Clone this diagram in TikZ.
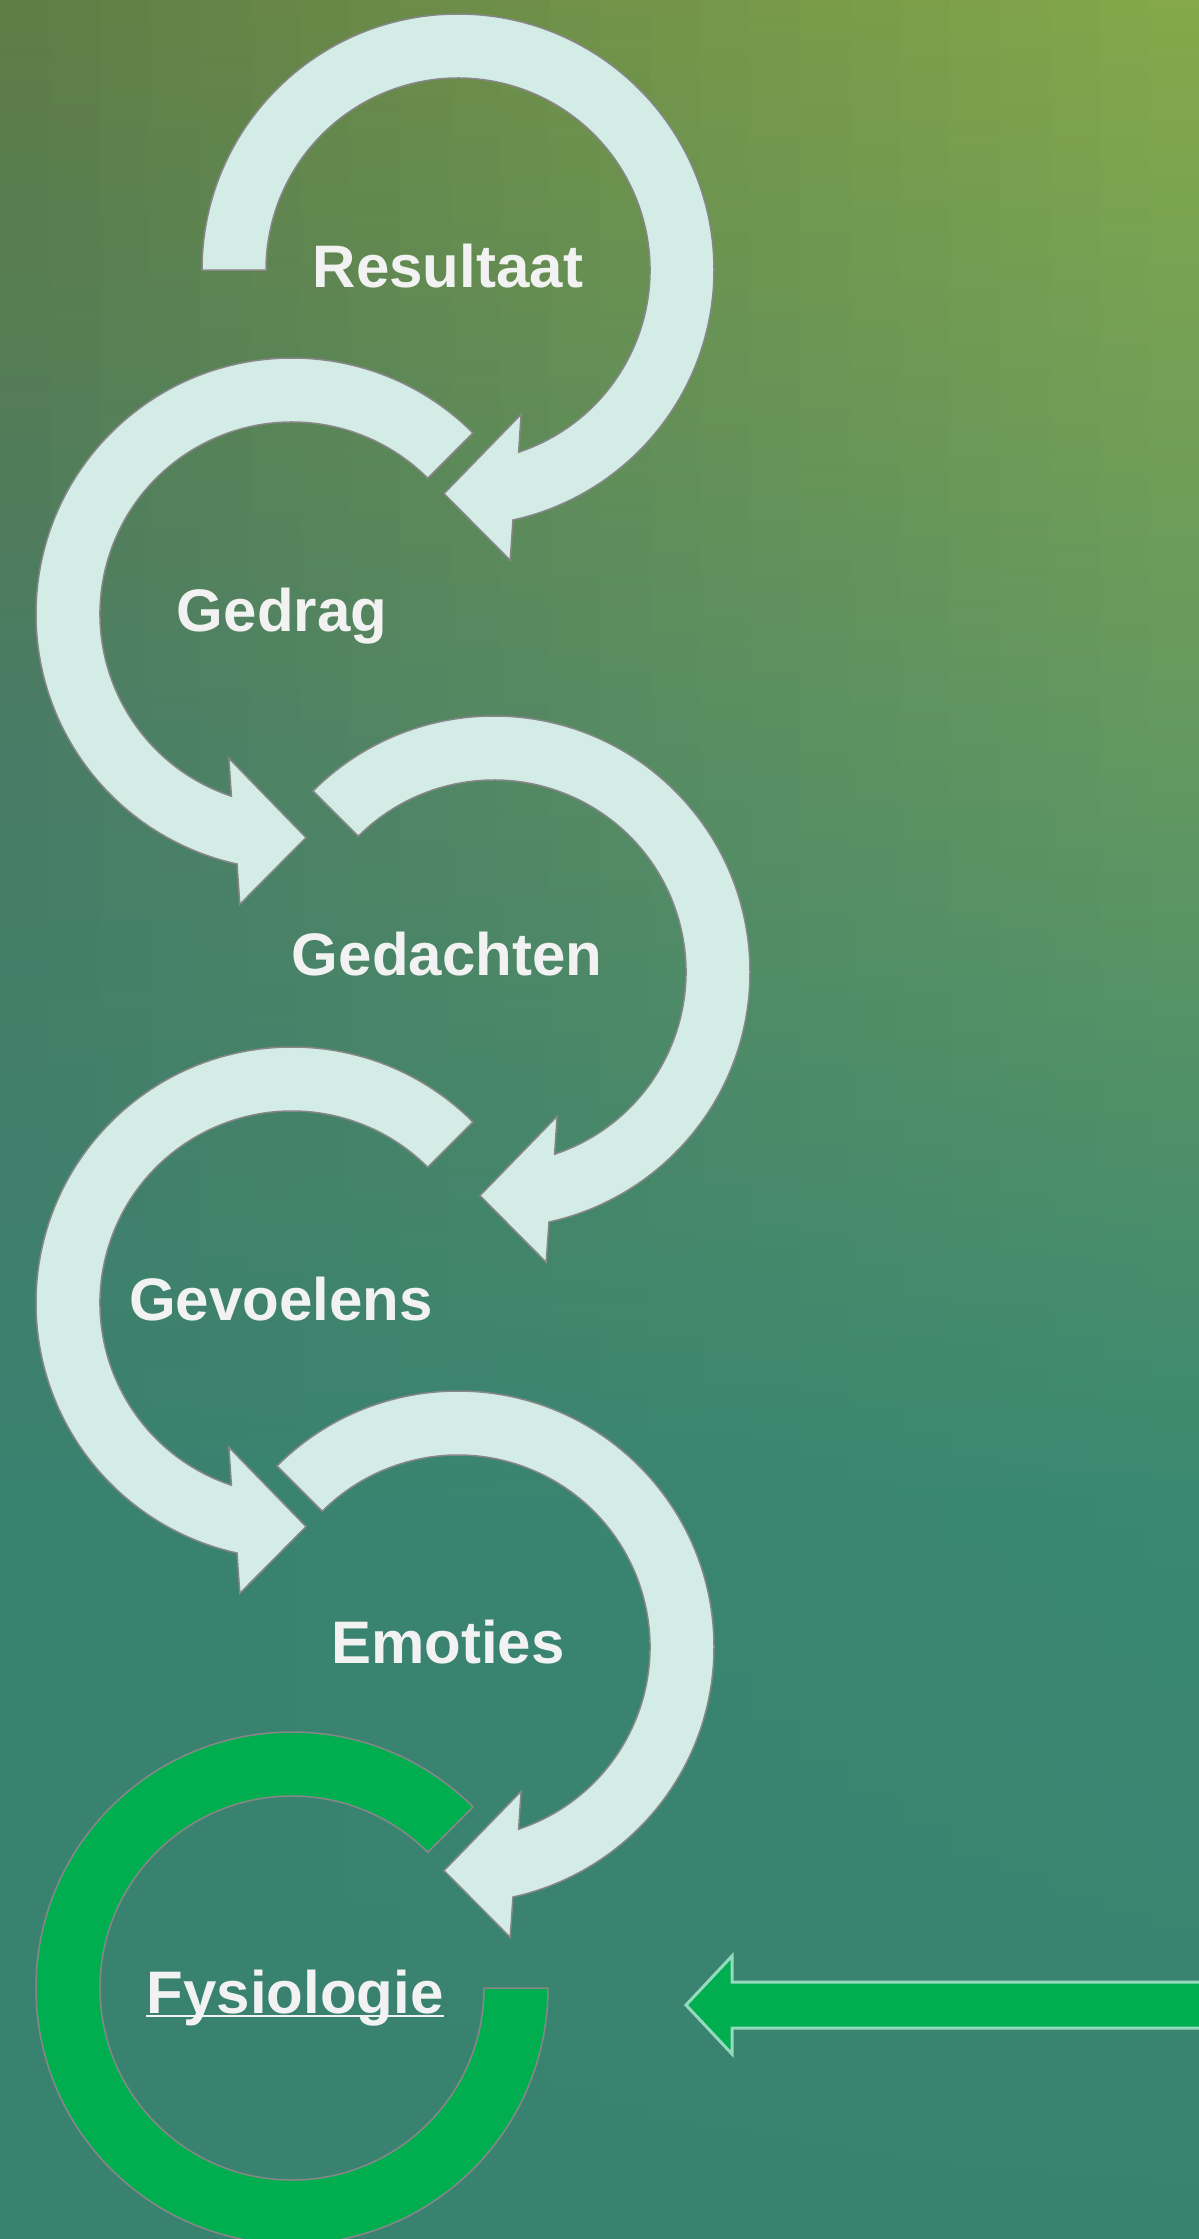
\documentclass[tikz,border=0pt]{standalone}
\usepackage{fontspec}
\setmainfont{Liberation Sans}
\definecolor{mint}{RGB}{212,236,230}
\definecolor{edgegray}{RGB}{135,135,135}
\definecolor{brightgreen}{RGB}{0,174,80}
\definecolor{paleedge}{RGB}{150,218,190}
\definecolor{labelwhite}{RGB}{242,242,242}
\definecolor{bgTL}{RGB}{95,125,70}
\definecolor{bgTR}{RGB}{132,168,74}
\definecolor{bgML}{RGB}{72,124,102}
\definecolor{bgMR}{RGB}{99,152,96}
\definecolor{bgBL}{RGB}{57,129,111}
\definecolor{bgBR}{RGB}{58,136,113}
\definecolor{bgEnd}{RGB}{57,130,112}
% clockwise loop: centre x, centre y, tail angle
\newcommand{\cwloop}[3]{%
  \begin{scope}[shift={(#1,#2)}]
    \draw[loopshape] (#3:256) arc[start angle=#3, end angle=437.6, radius=256]
      -- (52.2,290.3) -- (-14,223.6) -- (63.1,144.3) -- (60.6,182.2)
      arc[start angle=431.6, end angle=#3, radius=192] -- cycle;
  \end{scope}}
% counter-clockwise loop: centre x, centre y, tail angle
\newcommand{\ccwloop}[3]{%
  \begin{scope}[shift={(#1,#2)}]
    \draw[loopshape] (#3:256) arc[start angle=#3, end angle=102.4, radius=256]
      -- (-52.2,290.3) -- (14,223.6) -- (-63.1,144.3) -- (-60.6,182.2)
      arc[start angle=108.4, end angle=#3, radius=192] -- cycle;
  \end{scope}}
\begin{document}
\begin{tikzpicture}[x=1pt,y=-1pt,
  loopshape/.style={fill=mint,draw=edgegray,line width=1.5pt,line join=miter},
  ringshape/.style={fill=brightgreen,draw=edgegray,line width=1.5pt},
  bigarrow/.style={fill=brightgreen,draw=paleedge,line width=3pt,line join=miter},
  lbl/.style={text=labelwhite,font=\bfseries\fontsize{60}{72}\selectfont,inner sep=0pt,anchor=base}]
\useasboundingbox (0,0) rectangle (1199,2239);
\begin{scope}
\clip (0,0) rectangle (1199,2239);
% background gradient in vertical strips
\foreach \i in {0,...,23} {
  \pgfmathtruncatemacro\p{round(100*\i/23)}
  \colorlet{ctop}{bgTR!\p!bgTL}
  \colorlet{cmid}{bgMR!\p!bgML}
  \colorlet{cbot}{bgBR!\p!bgBL}
  \shade[top color=ctop, bottom color=cmid] (\i*50,-1) rectangle (\i*50+52,751);
  \shade[top color=cmid, bottom color=cbot] (\i*50,750) rectangle (\i*50+52,1501);
  \shade[top color=cbot, bottom color=bgEnd] (\i*50,1500) rectangle (\i*50+52,2240);
}
% loops
\cwloop{458}{270}{180}
\ccwloop{292}{614}{315}
\cwloop{494}{972}{225}
\ccwloop{292}{1303}{315}
\cwloop{458}{1647}{225}
% green ring
\begin{scope}[shift={(292,1988)}]
  \draw[ringshape] (315:256) arc[start angle=315, end angle=0, radius=256]
    -- (0:192) arc[start angle=0, end angle=315, radius=192] -- cycle;
\end{scope}
% green arrow from the right
\draw[bigarrow] (1210,1982) -- (732,1982) -- (732,1956) -- (686,2005)
  -- (732,2054) -- (732,2028) -- (1210,2028);
\end{scope}
% labels
\node[lbl] (resultaat) at (448,287) {Resultaat};
\node[lbl] (gedrag) at (282,631) {Gedrag};
\node[lbl] (gedachten) at (447,975) {Gedachten};
\node[lbl] (gevoelens) at (281,1320) {Gevoelens};
\node[lbl] (emoties) at (448,1663) {Emoties};
\node[lbl] (fysiologie) at (295,2013) {Fysiologie};
\draw[labelwhite,line width=2.5pt] ([yshift=-3pt]fysiologie.base west) -- ([yshift=-3pt]fysiologie.base east);
\end{tikzpicture}
\end{document}
